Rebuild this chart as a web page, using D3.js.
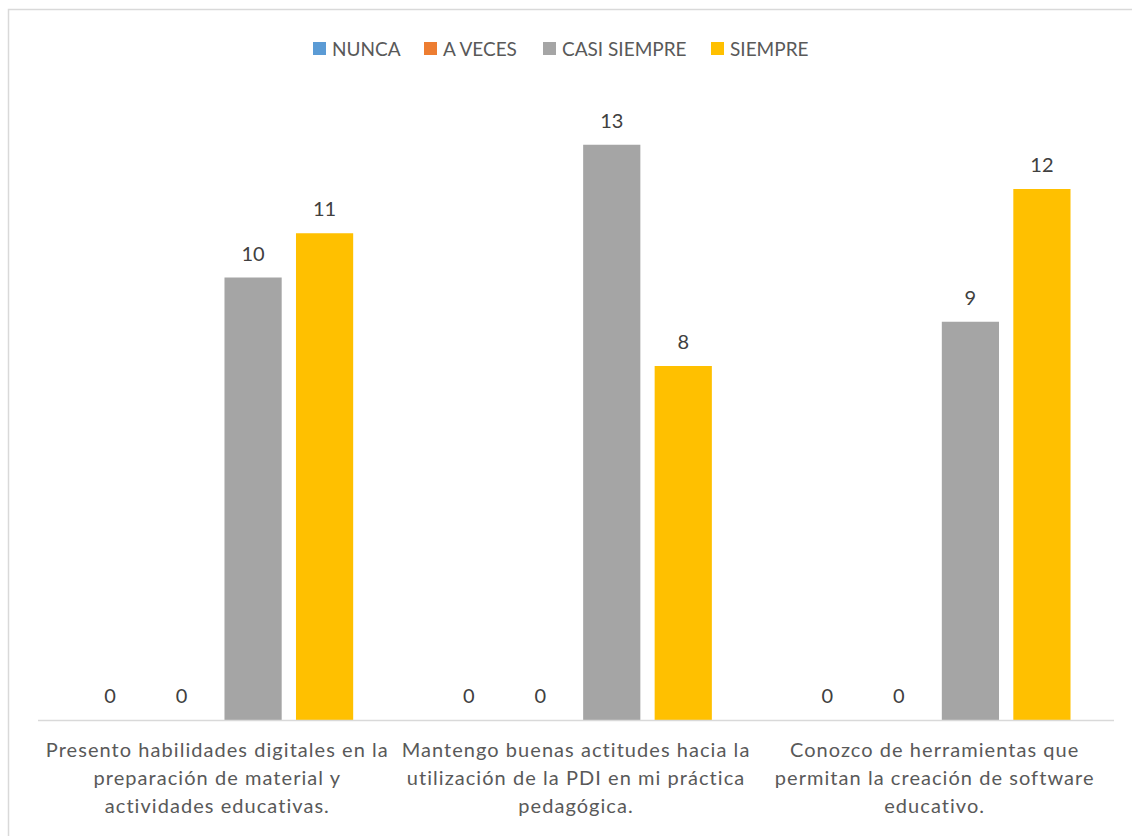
<!DOCTYPE html>
<html>
<head>
<meta charset="utf-8">
<script src="https://cdn.jsdelivr.net/npm/d3@7"></script>
<style>
  html, body { margin: 0; padding: 0; background: #fff; }
  svg { display: block; font-family: Lato, "Noto Sans", sans-serif; }
</style>
</head>
<body>
<svg id="chart" width="1132" height="836"></svg>
<script>
// Survey answers per statement
const categories = [
  ["Presento habilidades digitales en la", "preparación de material y", "actividades educativas."],
  ["Mantengo buenas actitudes hacia la", "utilización de la PDI en mi práctica", "pedagógica."],
  ["Conozco de herramientas que", "permitan la creación de software", "educativo."]
];
const seriesNames = ["NUNCA", "A VECES", "CASI SIEMPRE", "SIEMPRE"];
const seriesColors = ["#5b9bd5", "#ed7d31", "#a5a5a5", "#ffc000"];
const nunca = [0, 0, 0];
const aVeces = [0, 0, 0];
const casiSiempre = [10, 13, 9];
const siempre = [11, 8, 12];
const seriesValues = [nunca, aVeces, casiSiempre, siempre];

const svg = d3.select("#chart");
const W = 1132, H = 836;

// Chart frame (right and bottom edges run past the page)
svg.append("rect")
  .attr("x", 8.5).attr("y", 9.5)
  .attr("width", W + 20).attr("height", H + 20)
  .attr("fill", "none").attr("stroke", "#d9d9d9").attr("stroke-width", 1.5);

const plot = { left: 38, right: 1114, top: 70, bottom: 720 };

const x0 = d3.scaleBand()
  .domain(d3.range(categories.length))
  .range([plot.left, plot.right])
  .paddingInner(0).paddingOuter(0);

const x1 = d3.scaleBand()
  .domain(d3.range(seriesNames.length))
  .range([-143, 143])
  .paddingInner(0.2).paddingOuter(0.1);

const y = d3.scaleLinear().domain([0, 14.7]).range([plot.bottom, plot.bottom - 14.7 * 44.25]);

const groups = svg.append("g").selectAll("g")
  .data(categories)
  .join("g")
  .attr("transform", (d, i) => `translate(${x0(i) + x0.bandwidth() / 2},0)`);

groups.each(function (cat, ci) {
  const g = d3.select(this);
  seriesValues.forEach((vals, si) => {
    const v = vals[ci];
    const bx = x1(si);
    g.append("rect")
      .attr("x", bx).attr("width", x1.bandwidth())
      .attr("y", y(v)).attr("height", y(0) - y(v))
      .attr("fill", seriesColors[si]);
    g.append("text")
      .attr("x", bx + x1.bandwidth() / 2)
      .attr("y", y(v) - 17)
      .attr("text-anchor", "middle")
      .attr("font-size", 20)
      .attr("fill", "#404040")
      .text(v);
  });
});

// Category axis line
svg.append("line")
  .attr("x1", plot.left).attr("x2", plot.right)
  .attr("y1", plot.bottom + 0.5).attr("y2", plot.bottom + 0.5)
  .attr("stroke", "#d9d9d9").attr("stroke-width", 1.5);

// Category labels
groups.append("text")
  .attr("text-anchor", "middle")
  .attr("font-size", 20)
  .attr("letter-spacing", 1.05)
  .attr("fill", "#595959")
  .selectAll("tspan")
  .data(d => d)
  .join("tspan")
  .attr("x", 0)
  .attr("y", (d, i) => 757 + i * 28)
  .text(d => d);

// Legend
const legendX = [313, 424, 543, 711];
const legend = svg.append("g");
seriesNames.forEach((name, i) => {
  legend.append("rect")
    .attr("x", legendX[i]).attr("y", 42)
    .attr("width", 13).attr("height", 13)
    .attr("fill", seriesColors[i]);
  legend.append("text")
    .attr("x", legendX[i] + 19).attr("y", 56)
    .attr("font-size", 19)
    .attr("fill", "#595959")
    .text(name);
});
</script>
</body>
</html>
